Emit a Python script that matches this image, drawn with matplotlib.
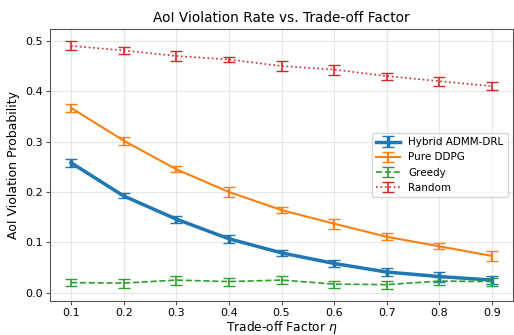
import matplotlib
matplotlib.use("Agg")
import matplotlib.pyplot as plt

eta = [0.1, 0.2, 0.3, 0.4, 0.5, 0.6, 0.7, 0.8, 0.9]
hybrid = [0.258, 0.192, 0.146, 0.107, 0.079, 0.058, 0.041, 0.032, 0.025]
hybrid_err = [0.008, 0.005, 0.007, 0.008, 0.006, 0.007, 0.008, 0.010, 0.008]
ddpg = [0.367, 0.302, 0.245, 0.200, 0.164, 0.137, 0.111, 0.092, 0.073]
ddpg_err = [0.008, 0.008, 0.006, 0.010, 0.006, 0.010, 0.007, 0.006, 0.010]
greedy = [0.020, 0.019, 0.025, 0.022, 0.025, 0.017, 0.016, 0.023, 0.022]
greedy_err = [0.007, 0.009, 0.009, 0.008, 0.008, 0.007, 0.008, 0.008, 0.008]
rand = [0.490, 0.481, 0.470, 0.463, 0.450, 0.443, 0.430, 0.420, 0.410]
rand_err = [0.009, 0.007, 0.010, 0.005, 0.010, 0.010, 0.007, 0.009, 0.008]

fig = plt.figure(figsize=(5.14, 3.35), dpi=100)
ax = fig.add_axes([50/514, 34/335, 463/514, 272/335])

ax.errorbar(eta, hybrid, yerr=hybrid_err, color='#1f77b4', lw=2.5, capsize=4, label='Hybrid ADMM-DRL')
ax.errorbar(eta, ddpg, yerr=ddpg_err, color='#ff7f0e', lw=1.5, capsize=4, label='Pure DDPG')
ax.errorbar(eta, greedy, yerr=greedy_err, color='#2ca02c', lw=1.2, ls='--', capsize=4, label='Greedy')
ax.errorbar(eta, rand, yerr=rand_err, color='#d62728', lw=1.2, ls=':', capsize=4, label='Random')

ax.set_xticks(eta)
ax.set_xlabel(r'Trade-off Factor $\eta$', fontsize=8.8, labelpad=0.5)
ax.set_ylabel('AoI Violation Probability', fontsize=9, labelpad=4)
ax.set_title('AoI Violation Rate vs. Trade-off Factor', fontsize=9.8, pad=5)
ax.tick_params(labelsize=8, length=2.8, pad=2.3, color='#555555')
for s in ax.spines.values():
    s.set_color('#555555')
ax.grid(True, alpha=0.3)
ax.legend(loc='center right', fontsize=7.5, handlelength=2.3)
fig.savefig('out.png', dpi=100)
